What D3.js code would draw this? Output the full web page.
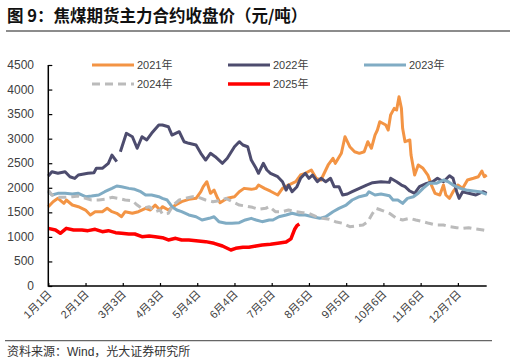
<!DOCTYPE html>
<html>
<head>
<meta charset="utf-8">
<script src="https://cdn.jsdelivr.net/npm/d3@7"></script>
<style>
  html, body { margin: 0; padding: 0; background: #fff; }
  svg { display: block; font-family: "Liberation Sans", Arial, "Noto Sans CJK SC", sans-serif; }
</style>
</head>
<body>
<svg id="chart" width="516" height="364"></svg>
<script>
// 日付は閏年の1月1日からの通し番号(0〜365)で持つ
const tickLabels = ['1月1日', '2月1日', '3月3日', '4月3日', '5月4日', '6月4日',
  '7月5日', '8月5日', '9月5日', '10月6日', '11月6日', '12月7日'];
const tickEvery = 31;
const dayCount = 366;
const yTicks = [0, 500, 1000, 1500, 2000, 2500, 3000, 3500, 4000, 4500];

const seriesNames = ['2021年', '2022年', '2023年', '2024年', '2025年'];

const price2021 = [
  [0, 1615], [4, 1717], [8, 1785], [13, 1683], [15, 1751], [20, 1649], [25, 1615], [31, 1547],
  [35, 1446], [39, 1513], [45, 1513], [49, 1581], [53, 1513], [57, 1480], [61, 1411], [64, 1513],
  [70, 1480], [75, 1513], [81, 1581], [85, 1547], [89, 1649], [93, 1547], [95, 1615], [100, 1547],
  [106, 1649], [111, 1717], [117, 1765], [123, 1785], [127, 1920], [129, 2022], [132, 2123],
  [135, 1887], [138, 1954], [141, 1785], [143, 1696], [149, 1785], [155, 1818], [159, 1920],
  [163, 1988], [169, 1968], [173, 1988], [175, 2056], [180, 1988], [185, 1930], [191, 1853],
  [195, 1988], [200, 2056], [206, 2123], [210, 2260], [214, 2295], [219, 2362], [223, 2193],
  [227, 2158], [233, 2464], [237, 2600], [239, 2498], [244, 2702], [247, 3040], [251, 2836],
  [255, 2734], [259, 2702], [263, 2734], [266, 2938], [269, 2804], [272, 3074], [274, 3176],
  [276, 3345], [281, 3278], [283, 3176], [285, 3481], [288, 3617], [290, 3583], [292, 3854],
  [294, 3617], [295, 3210], [297, 2938], [301, 2973], [302, 2667], [305, 2260], [308, 2464],
  [312, 2396], [316, 2260], [319, 2056], [322, 1887], [326, 1853], [329, 2056], [331, 1853],
  [334, 1785], [337, 1920], [341, 2056], [345, 1988], [349, 2158], [354, 2193], [358, 2225],
  [361, 2341], [363, 2225], [365, 2260]
];

// 2022年は春節前後にデータ欠落がある(null)
const price2022 = [
  [0, 2240], [3, 2327], [8, 2295], [14, 2327], [18, 2225], [22, 2190], [25, 2260], [33, 2295],
  [38, 2307], [40, 2396], [45, 2396], [50, 2498], [53, 2667], [57, 2531], [58, null], [60, 2734],
  [65, 3109], [70, 3040], [74, 2804], [78, 3040], [82, 2973], [86, 3109], [92, 3278], [95, 3278],
  [100, 3243], [103, 3074], [109, 3142], [113, 2938], [117, 2905], [123, 2871], [127, 2702],
  [131, 2565], [135, 2702], [139, 2633], [145, 2498], [149, 2600], [155, 2836], [159, 2938],
  [162, 2871], [166, 2836], [169, 2565], [173, 2396], [175, 2295], [179, 2498], [182, 2362],
  [185, 2295], [191, 2225], [195, 2123], [198, 1954], [200, 2056], [203, 1920], [207, 2022],
  [210, 2193], [214, 2295], [217, 2193], [220, 2260], [224, 2123], [227, 2193], [231, 2123],
  [235, 2193], [238, 2022], [242, 2022], [245, 1853], [249, 1873], [253, 1920], [259, 1988],
  [265, 2056], [270, 2103], [277, 2123], [284, 2110], [285, 2193], [290, 2123], [294, 2056],
  [297, 2022], [301, 1934], [305, 1887], [309, 2022], [315, 2090], [320, 2123], [324, 2193],
  [329, 2123], [334, 2245], [337, 2193], [340, 1920], [342, 1785], [345, 1920], [350, 1887],
  [356, 1853], [362, 1920], [365, 1887]
];

const price2023 = [
  [0, 1920], [3, 1853], [8, 1887], [14, 1887], [20, 1873], [25, 1887], [31, 1818], [36, 1832],
  [42, 1853], [47, 1920], [53, 1988], [57, 2036], [61, 2022], [67, 1988], [72, 1968], [77, 1920],
  [81, 1853], [86, 1853], [92, 1818], [95, 1785], [99, 1751], [103, 1615], [107, 1547], [111, 1513],
  [117, 1446], [123, 1411], [128, 1344], [134, 1378], [138, 1411], [142, 1310], [148, 1276],
  [153, 1276], [159, 1290], [164, 1344], [169, 1378], [173, 1344], [178, 1310], [184, 1344],
  [187, 1344], [192, 1411], [198, 1446], [203, 1480], [209, 1446], [214, 1446], [220, 1411],
  [226, 1378], [231, 1411], [237, 1513], [242, 1581], [248, 1649], [253, 1751], [259, 1818],
  [265, 1853], [267, 1920], [272, 1853], [277, 1873], [284, 1839], [287, 1751], [291, 1751],
  [295, 1683], [299, 1785], [304, 1818], [308, 1887], [312, 1988], [317, 2090], [323, 2090],
  [329, 2158], [333, 2123], [337, 2056], [343, 1988], [348, 1954], [354, 1934], [359, 1920],
  [365, 1867]
];

const price2024 = [
  [0, 1954], [3, 1853], [8, 1805], [14, 1805], [20, 1818], [25, 1832], [31, 1785], [36, 1751],
  [42, 1751], [47, 1765], [53, 1805], [58, 1785], [64, 1751], [70, 1737], [74, 1649], [78, 1581],
  [84, 1615], [89, 1513], [93, 1547], [95, 1466], [100, 1480], [104, 1649], [109, 1751],
  [114, 1785], [120, 1818], [125, 1805], [131, 1751], [137, 1717], [142, 1737], [148, 1785],
  [153, 1717], [159, 1649], [164, 1629], [170, 1602], [175, 1561], [181, 1581], [184, 1620],
  [189, 1513], [195, 1513], [200, 1547], [206, 1513], [212, 1493], [217, 1480], [223, 1411],
  [228, 1378], [234, 1358], [239, 1310], [245, 1276], [251, 1208], [256, 1222], [262, 1242],
  [266, 1310], [270, 1480], [273, 1581], [277, 1547], [284, 1480], [290, 1378], [295, 1344],
  [301, 1378], [306, 1344], [312, 1310], [317, 1276], [323, 1242], [329, 1242], [334, 1208],
  [340, 1188], [345, 1174], [350, 1188], [356, 1161], [362, 1140], [365, 1127]
];

const price2025 = [
  [0, 1174], [6, 1140], [10, 1073], [15, 1174], [21, 1140], [28, 1140], [33, 1127], [39, 1154],
  [45, 1106], [50, 1127], [56, 1086], [61, 1073], [67, 1059], [72, 1059], [78, 1005], [84, 1018],
  [89, 1005], [95, 984], [100, 937], [106, 971], [111, 937], [117, 937], [123, 923], [131, 903],
  [138, 869], [145, 814], [152, 733], [156, 767], [162, 788], [167, 788], [173, 814], [178, 835],
  [185, 850], [191, 869], [198, 895], [202, 960], [205, 1150], [207, 1230], [209, 1262]
];

const seriesValues = [price2021, price2022, price2023, price2024, price2025];
const seriesColors = ['#F39444', '#4D4C6E', '#80ACC4', '#BBBBBB', '#FF0000'];
const seriesDash = [null, null, null, '8,5', null];
const seriesWidth = [3, 3, 3, 3, 3.5];

const svg = d3.select('#chart');
const margin = { left: 48.3, right: 29.3, top: 65, bottom: 78 };
const width = 516, height = 364;

const x = d3.scaleLinear()
  .domain([0, dayCount - 1])
  .range([margin.left, width - margin.right]);
const y = d3.scaleLinear()
  .domain([0, 4500])
  .range([height - margin.bottom, margin.top]);

// タイトル
svg.append('text')
  .attr('x', 7).attr('y', 22)
  .attr('font-size', 16.5).attr('font-weight', 'bold').attr('fill', '#111')
  .attr('font-family', '"Noto Sans CJK SC", sans-serif')
  .text('图 9：焦煤期货主力合约收盘价（元/吨）');
svg.append('line')
  .attr('x1', 6).attr('x2', 510).attr('y1', 31).attr('y2', 31)
  .attr('stroke', '#666').attr('stroke-width', 1.5);

// 系列
const line = d3.line()
  .defined(d => d[1] !== null)
  .x(d => x(d[0]))
  .y(d => y(d[1]));

seriesValues.forEach((values, i) => {
  svg.append('path')
    .datum(values)
    .attr('fill', 'none')
    .attr('stroke', seriesColors[i])
    .attr('stroke-width', seriesWidth[i])
    .attr('stroke-dasharray', seriesDash[i])
    .attr('stroke-linejoin', 'round')
    .attr('d', line);
});

// Y軸 (目盛りは内側)
const yAxis = svg.append('g')
  .attr('transform', `translate(${margin.left},0)`)
  .call(d3.axisRight(y).tickValues(yTicks).tickSize(4).tickFormat(''));
yAxis.select('.domain').remove();
yAxis.selectAll('line').attr('stroke', '#000').attr('stroke-width', 1.2);
svg.selectAll('.ylabel')
  .data(yTicks)
  .join('text')
  .attr('x', 34).attr('y', d => y(d) + 4)
  .attr('text-anchor', 'end').attr('font-size', 12).attr('fill', '#404040')
  .text(d => d);

// X軸 (31日ごとに目盛り)
const xTickDays = tickLabels.map((_, i) => i * tickEvery);
const xAxis = svg.append('g')
  .attr('transform', `translate(0,${y(0)})`)
  .call(d3.axisTop(x).tickValues(xTickDays).tickSize(3).tickFormat(''));
xAxis.select('.domain').remove();
xAxis.selectAll('line').attr('stroke', '#000').attr('stroke-width', 1.2);
svg.selectAll('.xlabel')
  .data(tickLabels)
  .join('text')
  .attr('text-anchor', 'end').attr('font-size', 11).attr('fill', '#404040')
  .attr('transform', (d, i) => `translate(${x(xTickDays[i]) + 4},${y(0) + 9}) rotate(-45)`)
  .text(d => d);

svg.append('path')
  .attr('d', `M${margin.left},${margin.top}V${y(0)}H${width - margin.right}`)
  .attr('fill', 'none').attr('stroke', '#000').attr('stroke-width', 1.5);

// 凡例
const legendPos = [[92, 65], [228, 65], [364, 65], [92, 84], [228, 84]];
seriesNames.forEach((name, i) => {
  const [lx, ly] = legendPos[i];
  svg.append('line')
    .attr('x1', lx).attr('x2', lx + 42).attr('y1', ly).attr('y2', ly)
    .attr('stroke', seriesColors[i]).attr('stroke-width', seriesWidth[i])
    .attr('stroke-dasharray', seriesDash[i]);
  svg.append('text')
    .attr('x', lx + 45).attr('y', ly + 4)
    .attr('font-size', 11).attr('fill', '#404040')
    .text(name);
});

// 出典
svg.append('line')
  .attr('x1', 5).attr('x2', 492).attr('y1', 340.7).attr('y2', 340.7)
  .attr('stroke', '#666').attr('stroke-width', 1.2);
svg.append('text')
  .attr('x', 7).attr('y', 356)
  .attr('font-size', 12).attr('fill', '#333')
  .text('资料来源：Wind，光大证券研究所');
</script>
</body>
</html>
